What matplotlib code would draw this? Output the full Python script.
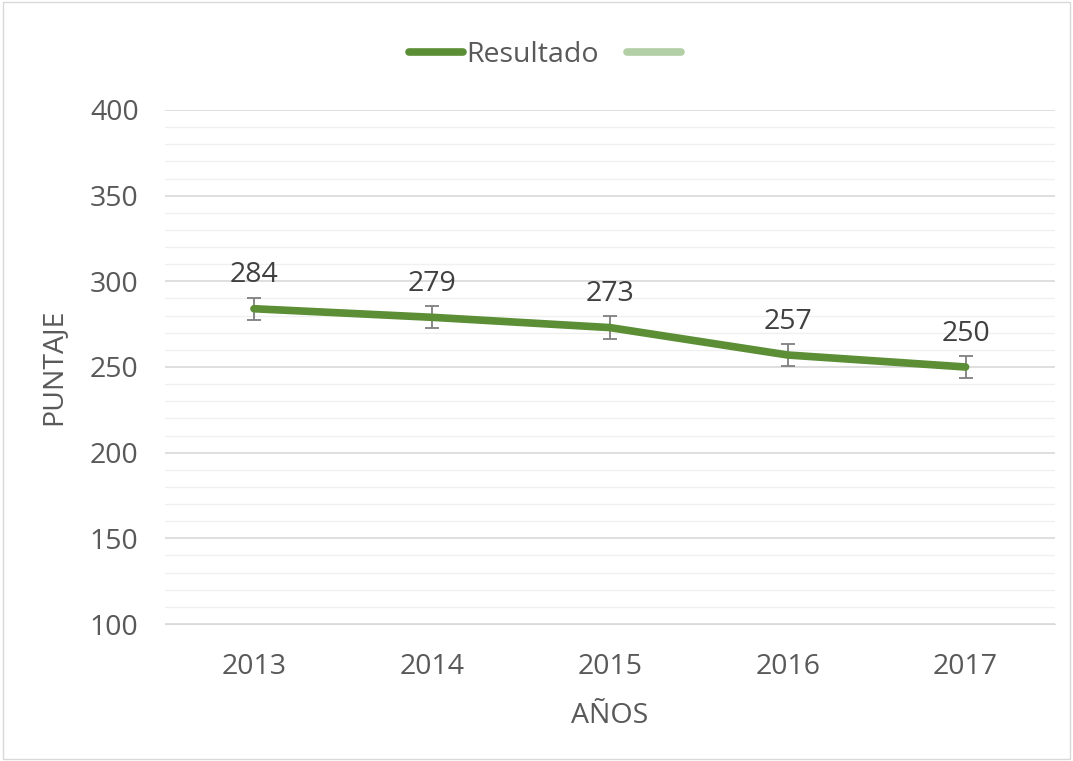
import numpy as np
import matplotlib.pyplot as plt
from matplotlib.patches import Rectangle

# data
years = ["2013", "2014", "2015", "2016", "2017"]
puntaje = [284, 279, 273, 257, 250]
error = [6.5, 6.5, 6.5, 6.5, 6.5]

yticks = [100, 150, 200, 250, 300, 350, 400]

lineColor = "#5B8E35"
lightColor = "#B2CFA5"
textColor = "#595959"

plt.rcParams['font.family'] = ['Open Sans', 'DejaVu Sans']
fs = 20.5

fig = plt.figure(figsize=(10.73, 7.61), dpi=100)
ax = fig.add_axes([0.1538, 0.18, 0.829, 0.6755])

xs = np.arange(len(years))
ax.errorbar(xs, puntaje, yerr=error, fmt='none', ecolor="#7F7F7F",
            elinewidth=1.3, capsize=5, capthick=1.3, zorder=2)
ax.plot(xs, puntaje, color=lineColor, linewidth=5.5, solid_capstyle='round',
        solid_joinstyle='round', label="Resultado", zorder=3)
ax.plot([], [], color=lightColor, linewidth=5.5, solid_capstyle='round', label=" ")

for x, v in zip(xs, puntaje):
    ax.annotate(str(v), (x, v), xytext=(0, 14), textcoords='offset points',
                ha='center', va='bottom', fontsize=fs, color="#404040")

ax.set_xlim(-0.5, len(years) - 0.5)
ax.set_ylim(100, 400)
ax.set_xticks(xs)
ax.set_xticklabels(years)
ax.set_yticks(yticks)
ax.set_yticks(np.arange(100, 401, 10), minor=True)
ax.grid(axis='y', which='major', color="#D9D9D9", linewidth=1.2)
ax.grid(axis='y', which='minor', color="#F0F0F0", linewidth=1.0)
ax.set_axisbelow(True)
ax.tick_params(axis='both', which='both', length=0, labelsize=fs, colors=textColor)
ax.tick_params(axis='y', pad=19)
ax.tick_params(axis='x', pad=21)
for s in ax.spines.values():
    s.set_visible(False)
ax.spines['bottom'].set_visible(True)
ax.spines['bottom'].set_color("#D9D9D9")

ax.set_xlabel("AÑOS", fontsize=fs, color=textColor, labelpad=15)
ax.set_ylabel("PUNTAJE", fontsize=fs, color=textColor, labelpad=16)

leg = fig.legend(loc='upper center', bbox_to_anchor=(0.513, 0.98), ncol=2, frameon=False,
                 fontsize=fs, handlelength=1.9, columnspacing=1.0, handletextpad=0.1)
for t in leg.get_texts():
    t.set_color(textColor)

fig.patches.append(Rectangle((0.003, 0.003), 0.994, 0.994, transform=fig.transFigure,
                             fill=False, edgecolor="#D9D9D9", linewidth=1))

fig.savefig("out.png", dpi=100)
